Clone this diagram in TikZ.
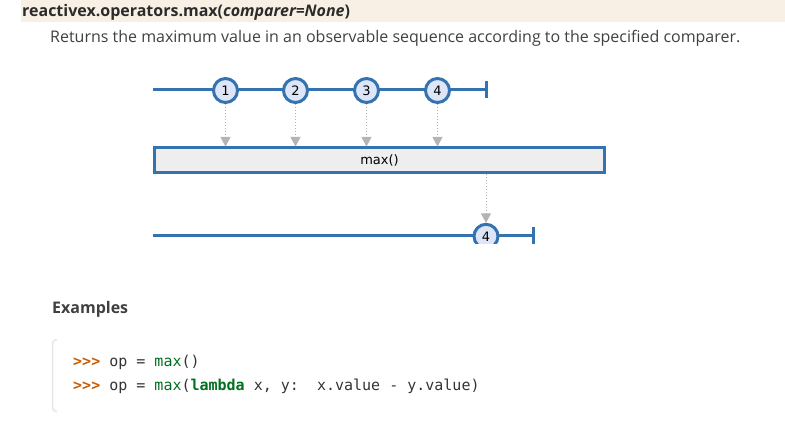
\documentclass[tikz,border=0pt]{standalone}
\usepackage{fontspec}
\setmainfont{Open Sans}
\newfontfamily\djv{DejaVu Sans}
\newfontfamily\djvmono{DejaVu Sans Mono}
\usetikzlibrary{arrows.meta}
\definecolor{bandbg}{HTML}{F9F0E5}
\definecolor{titlec}{HTML}{2B2B2B}
\definecolor{bodyc}{HTML}{404040}
\definecolor{rxblue}{HTML}{3472B0}
\definecolor{rxfill}{HTML}{DDE6F8}
\definecolor{boxfill}{HTML}{EEEEEE}
\definecolor{arrgray}{HTML}{B4B4B4}
\definecolor{promptc}{HTML}{C65D09}
\definecolor{greenc}{HTML}{007020}
\definecolor{codec}{HTML}{333333}
\definecolor{borderc}{HTML}{E6E6E6}
\tikzset{
  timeline/.style={draw=rxblue, line width=3pt},
  marble/.style={circle, draw=rxblue, fill=rxfill, line width=3pt, minimum size=24pt, inner sep=0pt, font=\djv\fontsize{13}{15}\selectfont},
  opbox/.style={draw=rxblue, fill=boxfill, line width=3pt, minimum width=450pt, minimum height=24.5pt, inner sep=0pt, font=\djv\fontsize{13}{15}\selectfont},
  emit/.style={draw=arrgray, line width=1pt, dotted, -{Triangle[width=10pt,length=9.5pt,fill=arrgray]}},
  codetxt/.style={anchor=base west, inner sep=0pt, font=\djvmono\fontsize{15}{18}\selectfont, text=codec},
}
\begin{document}
\begin{tikzpicture}[x=1pt,y=-1pt]
\useasboundingbox (0,0) rectangle (785,422);
% header band
\fill[bandbg] (21,0) rectangle (785,22);
\node[anchor=base west, inner sep=0pt, text=titlec, font=\bfseries\fontsize{16}{19}\selectfont] (title) at (22,16.5) {reactivex.operators.max(\textit{comparer=None})};
\node[anchor=base west, inner sep=0pt, text=bodyc, font=\fontsize{16}{19}\selectfont] (desc) at (50,43) {Returns the maximum value in an observable sequence according to the specified comparer.};
% marble diagram
\begin{scope}
\clip (0,78) rectangle (785,243.5);
\coordinate (s1) at (153,89.5);
\coordinate (e1) at (486.5,89.5);
\draw[timeline] (s1) -- (e1);
\draw[timeline] ([yshift=-8.5pt]e1) -- ([yshift=8.5pt]e1);
\node[marble] (c1) at (225.5,90.5) {1};
\node[marble] (c2) at (295.5,90.5) {2};
\node[marble] (c3) at (366.5,90.5) {3};
\node[marble] (c4) at (437.5,90.5) {4};
\node[opbox] (box) at (379.5,160.25) {max()};
\foreach \c in {c1,c2,c3,c4}{
  \draw[emit] (\c.south) -- (\c.south |- box.north);
}
\coordinate (s2) at (153,236);
\coordinate (e2) at (533,236);
\draw[timeline] (s2) -- (e2);
\draw[timeline] ([yshift=-8.5pt]e2) -- ([yshift=8.5pt]e2);
\node[marble] (o4) at (486,236.3) {4};
\draw[emit] (box.south -| o4) -- (o4.north);
\end{scope}
% examples
\node[anchor=base west, inner sep=0pt, text=bodyc, font=\bfseries\fontsize{16}{19}\selectfont] (ex) at (52,313) {Examples};
\draw[borderc, line width=1.5pt, rounded corners=4pt] (57,339.5) -- (52.5,339.5) -- (52.5,411.5) -- (57,411.5);
\node[codetxt] (l1) at (73,366) {\textcolor{promptc}{\bfseries >{}>{}>} op = \textcolor{greenc}{max}()};
\node[codetxt] (l2) at (73,390) {\textcolor{promptc}{\bfseries >{}>{}>} op = \textcolor{greenc}{max}(\textcolor{greenc}{\bfseries lambda} x, y:\ \ x.value - y.value)};
\end{tikzpicture}
\end{document}
